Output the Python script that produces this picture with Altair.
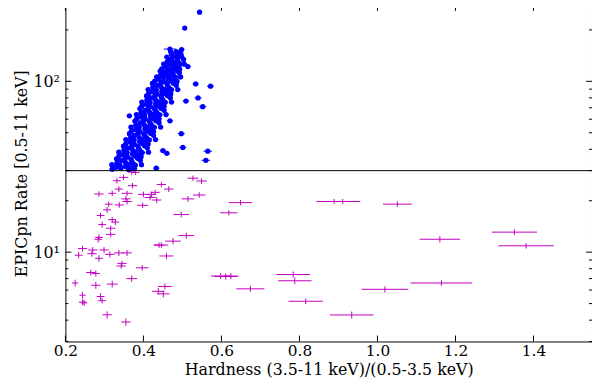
import altair as alt
import pandas as pd

# ---------------- data ----------------
# blue points (rate above 30): (hardness, rate, hardness error), one line per row of the cloud
blue_points = [
    (0.320, 30.6, 0.007), (0.342, 30.9, 0.006), (0.362, 30.5, 0.006), (0.377, 30.8, 0.007),
    (0.330, 31.4, 0.006), (0.354, 31.7, 0.007), (0.371, 31.3, 0.006),
    (0.319, 32.5, 0.007), (0.340, 32.2, 0.006), (0.361, 32.6, 0.006), (0.379, 32.3, 0.007), (0.395, 32.5, 0.006),
    (0.332, 33.2, 0.006), (0.354, 33.5, 0.006), (0.373, 33.1, 0.007),
    (0.343, 34.4, 0.007), (0.370, 34.1, 0.006), (0.392, 34.5, 0.006),
    (0.331, 35.2, 0.006), (0.353, 35.5, 0.007), (0.368, 35.1, 0.006), (0.385, 35.4, 0.006),
    (0.337, 36.4, 0.006), (0.359, 36.1, 0.006), (0.379, 36.5, 0.007), (0.394, 36.2, 0.006),
    (0.348, 37.2, 0.007), (0.372, 37.5, 0.006), (0.389, 37.1, 0.006),
    (0.337, 38.5, 0.006), (0.358, 38.2, 0.007), (0.379, 38.6, 0.006), (0.397, 38.3, 0.006), (0.413, 38.5, 0.007),
    (0.350, 39.4, 0.006), (0.372, 39.7, 0.006), (0.391, 39.3, 0.007),
    (0.361, 40.7, 0.007), (0.388, 40.4, 0.006), (0.410, 40.8, 0.006),
    (0.349, 41.7, 0.006), (0.371, 42.0, 0.007), (0.386, 41.6, 0.006), (0.403, 41.9, 0.006),
    (0.355, 43.1, 0.006), (0.377, 42.8, 0.006), (0.397, 43.2, 0.007), (0.412, 42.9, 0.006),
    (0.366, 44.1, 0.007), (0.390, 44.4, 0.006), (0.407, 44.0, 0.006),
    (0.355, 45.6, 0.006), (0.376, 45.3, 0.007), (0.397, 45.7, 0.006), (0.415, 45.4, 0.006), (0.431, 45.6, 0.007),
    (0.367, 46.7, 0.006), (0.389, 47.0, 0.006), (0.408, 46.6, 0.007),
    (0.377, 48.2, 0.007), (0.404, 47.9, 0.006), (0.426, 48.3, 0.006),
    (0.364, 49.4, 0.006), (0.386, 49.7, 0.007), (0.401, 49.3, 0.006), (0.418, 49.6, 0.006),
    (0.369, 51.0, 0.006), (0.391, 50.7, 0.006), (0.411, 51.1, 0.007), (0.426, 50.8, 0.006),
    (0.380, 52.3, 0.007), (0.404, 52.6, 0.006), (0.421, 52.2, 0.006),
    (0.368, 54.0, 0.006), (0.389, 53.7, 0.007), (0.410, 54.1, 0.006), (0.428, 53.8, 0.006), (0.444, 54.0, 0.007),
    (0.380, 55.3, 0.006), (0.402, 55.6, 0.006), (0.421, 55.2, 0.007),
    (0.391, 57.1, 0.007), (0.418, 56.8, 0.006), (0.440, 57.2, 0.006),
    (0.378, 58.5, 0.006), (0.400, 58.8, 0.007), (0.415, 58.4, 0.006), (0.432, 58.7, 0.006),
    (0.383, 60.4, 0.006), (0.405, 60.1, 0.006), (0.425, 60.5, 0.007), (0.440, 60.2, 0.006),
    (0.394, 61.9, 0.007), (0.418, 62.2, 0.006), (0.435, 61.8, 0.006),
    (0.382, 63.9, 0.006), (0.403, 63.6, 0.007), (0.424, 64.0, 0.006), (0.442, 63.7, 0.006), (0.458, 63.9, 0.007),
    (0.394, 65.5, 0.006), (0.416, 65.8, 0.006), (0.435, 65.4, 0.007),
    (0.404, 67.6, 0.007), (0.431, 67.3, 0.006), (0.453, 67.7, 0.006),
    (0.391, 69.3, 0.006), (0.413, 69.6, 0.007), (0.428, 69.2, 0.006), (0.445, 69.5, 0.006),
    (0.396, 71.5, 0.006), (0.418, 71.2, 0.006), (0.438, 71.6, 0.007), (0.453, 71.3, 0.006),
    (0.407, 73.3, 0.007), (0.431, 73.6, 0.006), (0.448, 73.2, 0.006),
    (0.396, 75.6, 0.006), (0.417, 75.3, 0.007), (0.438, 75.7, 0.006), (0.456, 75.4, 0.006), (0.472, 75.6, 0.007),
    (0.409, 77.6, 0.006), (0.431, 77.9, 0.006), (0.450, 77.5, 0.007),
    (0.420, 80.0, 0.007), (0.447, 79.7, 0.006), (0.469, 80.1, 0.006),
    (0.408, 82.1, 0.006), (0.430, 82.4, 0.007), (0.445, 82.0, 0.006), (0.462, 82.3, 0.006),
    (0.413, 84.6, 0.006), (0.435, 84.3, 0.006), (0.455, 84.7, 0.007), (0.470, 84.4, 0.006),
    (0.423, 86.8, 0.007), (0.447, 87.1, 0.006), (0.464, 86.7, 0.006),
    (0.412, 89.5, 0.006), (0.433, 89.2, 0.007), (0.454, 89.6, 0.006), (0.472, 89.3, 0.006), (0.488, 89.5, 0.007),
    (0.424, 91.9, 0.006), (0.446, 92.2, 0.006), (0.465, 91.8, 0.007),
    (0.435, 94.7, 0.007), (0.462, 94.4, 0.006), (0.484, 94.8, 0.006),
    (0.423, 97.2, 0.006), (0.445, 97.5, 0.007), (0.460, 97.1, 0.006), (0.477, 97.4, 0.006),
    (0.429, 100.2, 0.006), (0.451, 99.8, 0.006), (0.471, 100.3, 0.007), (0.486, 99.9, 0.006),
    (0.439, 102.8, 0.007), (0.463, 103.3, 0.006), (0.480, 102.7, 0.006),
    (0.434, 106.2, 0.006), (0.451, 105.8, 0.007), (0.468, 106.3, 0.006), (0.482, 105.9, 0.006), (0.495, 106.1, 0.007),
    (0.444, 108.8, 0.006), (0.462, 109.3, 0.006), (0.477, 108.7, 0.007),
    (0.453, 112.2, 0.007), (0.474, 111.8, 0.006), (0.492, 112.3, 0.006),
    (0.443, 114.8, 0.006), (0.460, 115.3, 0.007), (0.472, 114.7, 0.006), (0.486, 115.2, 0.006),
    (0.447, 118.2, 0.006), (0.465, 117.8, 0.006), (0.481, 118.3, 0.007), (0.493, 117.9, 0.006),
    (0.456, 121.8, 0.007), (0.476, 122.3, 0.006), (0.489, 121.7, 0.006),
    (0.452, 126.2, 0.006), (0.467, 125.8, 0.007), (0.481, 126.3, 0.006), (0.494, 125.9, 0.006), (0.505, 126.1, 0.007),
    (0.461, 129.8, 0.006), (0.476, 130.3, 0.006), (0.489, 129.7, 0.007),
    (0.468, 134.2, 0.007), (0.487, 133.8, 0.006), (0.503, 134.3, 0.006),
    (0.460, 138.8, 0.006), (0.475, 139.3, 0.007), (0.486, 138.7, 0.006), (0.498, 139.2, 0.006),
    (0.472, 144.2, 0.006), (0.486, 143.8, 0.006), (0.496, 144.3, 0.007),
    (0.470, 148.8, 0.007), (0.484, 149.3, 0.006), (0.495, 148.7, 0.006),
    (0.468, 154.5, 0.016), (0.498, 153.5, 0.007),
    # isolated points around the cloud
    (0.544, 254, 0.004), (0.506, 205, 0.005), (0.534, 96.5, 0.008), (0.572, 93.6, 0.009),
    (0.552, 71, 0.009), (0.540, 80, 0.009), (0.364, 62.8, 0.007), (0.468, 58.7, 0.008),
    (0.497, 49.4, 0.009), (0.501, 41, 0.009), (0.450, 39.3, 0.008), (0.460, 37.9, 0.008),
    (0.565, 39, 0.011), (0.560, 34.5, 0.011), (0.433, 31, 0.008), (0.509, 76.6, 0.008),
    (0.514, 122, 0.007),
]

# magenta points (rate below 30)
mag_x = [0.349, 0.332, 0.372, 0.446, 0.465, 0.527, 0.549, 0.337, 0.286, 0.320,
         0.358, 0.355, 0.358, 0.400, 0.421, 0.430, 0.417, 0.434, 0.543, 0.514,
         0.311, 0.338, 0.398, 0.307, 0.290, 0.320, 0.328, 0.294, 0.316, 0.316,
         0.286, 0.284, 0.497, 0.510, 0.476, 0.446, 0.649, 0.619, 0.244, 0.270,
         0.299, 0.234, 0.268, 0.314, 0.337, 0.358, 0.286, 0.345, 0.343, 0.397,
         0.459, 0.265, 0.278, 0.370, 0.320, 0.225, 0.278, 0.455, 0.438, 0.451,
         0.244, 0.290, 0.294, 0.244, 0.248, 0.307, 0.355, 0.611, 0.598, 0.624,
         0.674, 0.889, 0.911, 1.051, 1.351, 1.160, 1.381, 0.784, 0.788, 1.019,
         1.164, 0.816, 0.934, 0.380, 0.370, 0.440]
mag_y = [27.4, 26.2, 24.5, 24.9, 23.4, 27.1, 26.1, 23.4, 21.9, 22.1,
         22.1, 20.5, 19.8, 21.8, 21.8, 22.4, 20.9, 20.2, 21.6, 20.5,
         19.1, 18.9, 18.8, 17.7, 16.4, 15.5, 15.0, 14.5, 13.8, 12.7,
         12.2, 11.9, 16.6, 12.5, 11.6, 11.0, 19.5, 17.0, 10.5, 10.3,
         10.3, 9.6, 9.8, 9.7, 9.9, 9.9, 9.2, 8.6, 8.3, 8.1,
         9.5, 7.6, 7.5, 7.0, 6.5, 6.6, 6.4, 6.3, 5.9, 5.7,
         5.6, 5.5, 5.2, 5.1, 5.05, 4.3, 3.9, 7.2, 7.25, 7.25,
         6.1, 19.8, 19.8, 19.1, 13.1, 11.9, 10.9, 7.4, 6.8, 6.06,
         6.6, 5.16, 4.29, 29.3, 29.4, 11.0]
mag_xerr = [0.012, 0.010, 0.012, 0.012, 0.012, 0.014, 0.014, 0.010, 0.012, 0.010,
            0.014, 0.012, 0.012, 0.014, 0.012, 0.012, 0.014, 0.012, 0.016, 0.016,
            0.010, 0.012, 0.014, 0.010, 0.010, 0.010, 0.010, 0.010, 0.012, 0.012,
            0.010, 0.010, 0.020, 0.020, 0.020, 0.018, 0.030, 0.022, 0.012, 0.012,
            0.012, 0.010, 0.012, 0.012, 0.012, 0.012, 0.010, 0.012, 0.012, 0.016,
            0.018, 0.012, 0.010, 0.014, 0.014, 0.008, 0.012, 0.018, 0.016, 0.016,
            0.008, 0.010, 0.010, 0.010, 0.008, 0.012, 0.012, 0.030, 0.025, 0.020,
            0.036, 0.045, 0.045, 0.037, 0.058, 0.052, 0.071, 0.043, 0.043, 0.060,
            0.079, 0.044, 0.056, 0.010, 0.010, 0.014]
mag_yerr = [1.0, 1.0, 0.9, 0.9, 0.9, 1.0, 1.0, 0.9, 0.8, 0.8,
            0.8, 0.8, 0.8, 0.8, 0.8, 0.8, 0.8, 0.8, 0.8, 0.8,
            0.7, 0.7, 0.7, 0.7, 0.6, 0.6, 0.6, 0.6, 0.5, 0.5,
            0.5, 0.5, 0.6, 0.5, 0.5, 0.4, 0.7, 0.6, 0.4, 0.4,
            0.4, 0.4, 0.4, 0.4, 0.4, 0.4, 0.4, 0.3, 0.3, 0.3,
            0.4, 0.3, 0.3, 0.3, 0.3, 0.3, 0.3, 0.25, 0.25, 0.25,
            0.25, 0.25, 0.2, 0.2, 0.2, 0.2, 0.2, 0.3, 0.3, 0.3,
            0.25, 0.7, 0.7, 0.7, 0.5, 0.5, 0.4, 0.3, 0.3, 0.25,
            0.25, 0.2, 0.2, 1.0, 1.0, 0.4]

x_ticks = [0.2, 0.4, 0.6, 0.8, 1.0, 1.2, 1.4]
y_major = [10, 100]
y_minor = [3, 4, 5, 6, 7, 8, 9, 20, 30, 40, 50, 60, 70, 80, 90, 200]
threshold = [30]

# ---------------- tables ----------------
blue = pd.DataFrame(blue_points, columns=["x", "y", "xe"])
blue["xlo"] = blue["x"] - blue["xe"]
blue["xhi"] = blue["x"] + blue["xe"]
mag = pd.DataFrame({"x": mag_x, "y": mag_y, "xe": mag_xerr, "ye": mag_yerr})
mag["xlo"] = mag["x"] - mag["xe"]
mag["xhi"] = mag["x"] + mag["xe"]
mag["ylo"] = mag["y"] - mag["ye"]
mag["yhi"] = mag["y"] + mag["ye"]

W, H = 532, 340
BLUE = "#0000ff"
MAG = "#bf00bf"
FONT = "DejaVu Serif"

xs = alt.Scale(domain=[0.2, 1.55], nice=False, zero=False)
ys = alt.Scale(type="log", domain=[3, 280], nice=False)

x_axis = alt.Axis(values=x_ticks, format=".1f", ticks=False, domain=False, grid=False,
                  labelFont=FONT, labelFontSize=15.5, labelColor="black", labelPadding=2,
                  title="Hardness (3.5-11 keV)/(0.5-3.5 keV)", titleFont=FONT,
                  titleFontSize=16, titleFontWeight="normal", titleColor="black",
                  titlePadding=3, labelFlush=False)
y_axis = alt.Axis(values=y_major, labelExpr="datum.value == 10 ? '10¹' : '10²'",
                  ticks=False, domain=False, grid=False,
                  labelFont=FONT, labelFontSize=16, labelColor="black", labelPadding=6,
                  title="EPICpn Rate [0.5-11 keV]", titleFont=FONT, titleFontSize=16,
                  titleFontWeight="normal", titleColor="black", titlePadding=4)

mag_xe = alt.Chart(mag).mark_rule(color=MAG, strokeWidth=1, clip=True).encode(
    x=alt.X("xlo:Q", scale=xs, axis=x_axis),
    x2="xhi:Q",
    y=alt.Y("y:Q", scale=ys, axis=y_axis),
)
mag_ye = alt.Chart(mag).mark_rule(color=MAG, strokeWidth=1, clip=True).encode(
    x=alt.X("x:Q", scale=xs),
    y=alt.Y("ylo:Q", scale=ys),
    y2="yhi:Q",
)
blue_xe = alt.Chart(blue).mark_rule(color=BLUE, strokeWidth=1, clip=True).encode(
    x=alt.X("xlo:Q", scale=xs),
    x2="xhi:Q",
    y=alt.Y("y:Q", scale=ys),
)
blue_pts = alt.Chart(blue).mark_circle(color=BLUE, size=28, opacity=1, clip=True).encode(
    x=alt.X("x:Q", scale=xs),
    y=alt.Y("y:Q", scale=ys),
)
thr = alt.Chart(pd.DataFrame({"v": threshold})).mark_rule(color="black", strokeWidth=1).encode(
    y=alt.Y("v:Q", scale=ys), x=alt.value(0), x2=alt.value(W)
)

xt = pd.DataFrame({"v": x_ticks})
ymj = pd.DataFrame({"v": y_major})
ymn = pd.DataFrame({"v": y_minor})
tick = dict(color="black", strokeWidth=1)
tx_b = alt.Chart(xt).mark_rule(**tick).encode(x=alt.X("v:Q", scale=xs), y=alt.value(H), y2=alt.value(H - 6))
tx_t = alt.Chart(xt).mark_rule(**tick).encode(x=alt.X("v:Q", scale=xs), y=alt.value(0), y2=alt.value(6))
ty_l = alt.Chart(ymj).mark_rule(**tick).encode(y=alt.Y("v:Q", scale=ys), x=alt.value(0), x2=alt.value(6))
ty_r = alt.Chart(ymj).mark_rule(**tick).encode(y=alt.Y("v:Q", scale=ys), x=alt.value(W), x2=alt.value(W - 6))
tm_l = alt.Chart(ymn).mark_rule(**tick).encode(y=alt.Y("v:Q", scale=ys), x=alt.value(0), x2=alt.value(3))
tm_r = alt.Chart(ymn).mark_rule(**tick).encode(y=alt.Y("v:Q", scale=ys), x=alt.value(W), x2=alt.value(W - 3))

chart = alt.layer(
    mag_xe, mag_ye, blue_xe, blue_pts, thr, tx_b, tx_t, ty_l, ty_r, tm_l, tm_r
).properties(
    width=W, height=H,
    autosize=alt.AutoSizeParams(type="none"),
    padding={"left": 58, "top": -5, "right": 0, "bottom": 37},
    background="white",
).configure_view(stroke="black", strokeWidth=1)

chart.save("out.html", embed_options={"renderer": "svg", "actions": False})
